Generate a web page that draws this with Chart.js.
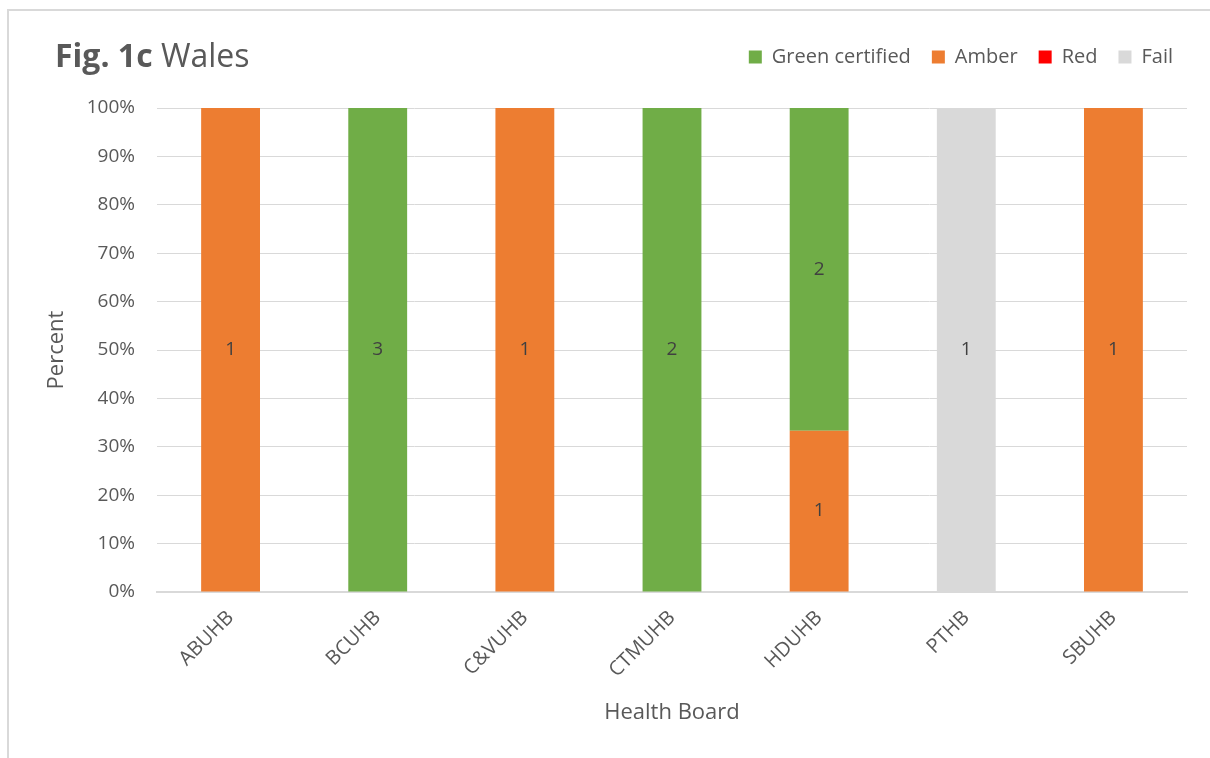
<!DOCTYPE html>
<html>
<head>
<meta charset="utf-8">
<script src="https://cdn.jsdelivr.net/npm/chart.js@4.4.1/dist/chart.umd.min.js"></script>
<style>
    html, body { margin: 0; padding: 0; background: #fff; overflow: hidden; }
    #frame { position: absolute; left: 7px; top: 9px; width: 1220px; height: 770px; border: 2px solid #d9d9d9; box-sizing: border-box; }
    #wrap { position: absolute; left: 0; top: 0; width: 1210px; height: 758px; }
</style>
</head>
<body>
<div id="frame"></div>
<div id="wrap"><canvas id="walesChart" width="1210" height="758"></canvas></div>
<script>
const boards = ['ABUHB', 'BCUHB', 'C&VUHB', 'CTMUHB', 'HDUHB', 'PTHB', 'SBUHB']
const greenCounts = [0, 3, 0, 2, 2, 0, 0]
const amberCounts = [1, 0, 1, 0, 1, 0, 1]
const redCounts = [0, 0, 0, 0, 0, 0, 0]
const failCounts = [0, 0, 0, 0, 0, 1, 0]
const legendOrder = ['Green certified', 'Amber', 'Red', 'Fail']
const yTicks = [0, 10, 20, 30, 40, 50, 60, 70, 80, 90, 100]

const totals = boards.map((b, i) => greenCounts[i] + amberCounts[i] + redCounts[i] + failCounts[i])
const toPercent = counts => counts.map((c, i) => totals[i] ? c / totals[i] * 100 : 0)

const textColor = '#595959'
const fontFamily = '"Open Sans", "Noto Sans", sans-serif'

// counts written in the middle of each segment
const segmentLabels = {
    id: 'segmentLabels',
    afterDatasetsDraw(chart) {
        const ctx = chart.ctx
        ctx.save()
        ctx.fillStyle = '#404040'
        ctx.font = '19px ' + fontFamily
        ctx.textAlign = 'center'
        ctx.textBaseline = 'middle'
        chart.data.datasets.forEach((ds, di) => {
            chart.getDatasetMeta(di).data.forEach((bar, i) => {
                const count = ds.counts[i]
                if (!count) return
                const mid = (bar.y + bar.base) / 2
                ctx.fillText(String(count), bar.x, mid)
            })
        })
        ctx.restore()
    }
}

// "Fig. 1c" bold + "Wales" regular
const figTitle = {
    id: 'figTitle',
    afterDraw(chart) {
        const ctx = chart.ctx
        ctx.save()
        ctx.fillStyle = textColor
        ctx.textBaseline = 'alphabetic'
        ctx.font = 'bold 32px ' + fontFamily
        const x = 55, y = 67
        ctx.fillText('Fig. 1c', x, y)
        const w = ctx.measureText('Fig. 1c ').width
        ctx.font = '32px ' + fontFamily
        ctx.fillText('Wales', x + w, y)
        ctx.restore()
    }
}

// extra room under the legend so the plot starts lower,
// and the legend pushed a little further right than the plot edge
const legendGap = {
    id: 'legendGap',
    beforeInit(chart) {
        const fit = chart.legend.fit
        chart.legend.fit = function () {
            fit.call(this)
            this.height += 31
        }
    },
    afterLayout(chart) {
        chart.legend.left += 7
        chart.legend.right += 7
    }
}

const ctx = document.getElementById('walesChart').getContext('2d')

new Chart(ctx, {
    type: 'bar',
    data: {
        labels: boards,
        datasets: [
            {label: 'Amber', counts: amberCounts, data: toPercent(amberCounts), backgroundColor: '#ED7D31'},
            {label: 'Green certified', counts: greenCounts, data: toPercent(greenCounts), backgroundColor: '#70AD47'},
            {label: 'Red', counts: redCounts, data: toPercent(redCounts), backgroundColor: '#FF0000'},
            {label: 'Fail', counts: failCounts, data: toPercent(failCounts), backgroundColor: '#D9D9D9'}
        ]
    },
    options: {
        responsive: false,
        animation: false,
        barPercentage: 0.4,
        categoryPercentage: 1.0,
        layout: {padding: {left: 44, right: 23, top: 26, bottom: 30}},
        plugins: {
            legend: {
                position: 'top',
                align: 'end',
                labels: {
                    boxWidth: 13,
                    boxHeight: 13,
                    padding: 21,
                    color: textColor,
                    font: {size: 20, family: fontFamily},
                    sort: (a, b) => legendOrder.indexOf(a.text) - legendOrder.indexOf(b.text)
                }
            },
            tooltip: {enabled: false}
        },
        scales: {
            x: {
                stacked: true,
                grid: {display: false},
                border: {color: '#d9d9d9', width: 2},
                ticks: {
                    color: textColor,
                    font: {size: 20, family: fontFamily},
                    minRotation: 45,
                    maxRotation: 45,
                    padding: 6
                },
                title: {
                    display: true,
                    text: 'Health Board',
                    color: textColor,
                    font: {size: 22, family: fontFamily},
                    padding: {top: 4, bottom: 2}
                },
                afterFit: function (scale) { scale.height = 136 }
            },
            y: {
                stacked: true,
                min: 0,
                max: 100,
                afterBuildTicks: function (scale) { scale.ticks = yTicks.map(v => ({value: v})) },
                grid: {color: '#d9d9d9', lineWidth: 1, drawTicks: false},
                border: {display: false},
                ticks: {
                    color: textColor,
                    font: {size: 19, family: fontFamily},
                    padding: 22,
                    callback: v => v + '%'
                },
                title: {
                    display: true,
                    text: 'Percent',
                    color: textColor,
                    font: {size: 22, family: fontFamily},
                    padding: {top: 0, bottom: 4}
                },
                afterFit: function (scale) { scale.width = 113 }
            }
        }
    },
    plugins: [segmentLabels, figTitle, legendGap]
})
</script>
</body>
</html>
